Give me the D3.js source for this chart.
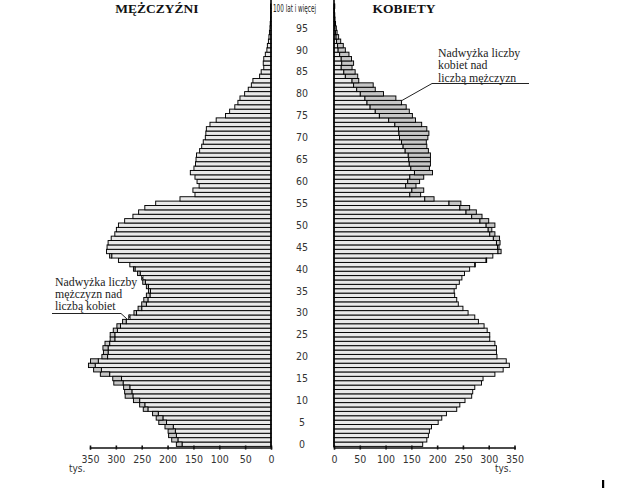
<!DOCTYPE html>
<html>
<head>
<meta charset="utf-8">
<script src="https://cdn.jsdelivr.net/npm/d3@7"></script>
<style>
  body { margin: 0; background: #fff; }
  svg { display: block; }
</style>
</head>
<body>
<div id="pyramid"></div>
<script>
// --------------- Data ---------------
// population by single year of age, thousands (index = age, last = 100+)
const males = [
  183, 192, 198, 199, 205, 217, 222, 229, 247, 254,
  266, 282, 283, 285, 304, 306, 330, 343, 353, 349,
  327, 324, 325, 321, 311, 311, 305, 298, 287, 275,
  265, 257, 250, 246, 241, 237, 241, 248, 250, 258,
  266, 273, 295, 312, 318, 317, 315, 309, 302, 299,
  295, 283, 267, 256, 244, 223, 176, 147, 151, 139,
  143, 147, 156, 149, 146, 145, 144, 138, 134, 131,
  127, 126, 125, 118, 106, 88, 80, 70, 64, 60,
  51, 44, 38, 35, 22, 19, 14, 15, 14, 11,
  8, 7, 5, 4, 3, 2, 1.5, 1, 0.7, 0.5, 0.8
];
const females = [
  172, 180, 183, 185, 189, 202, 209, 218, 238, 244,
  254, 267, 269, 273, 286, 289, 312, 328, 340, 334,
  316, 315, 315, 312, 302, 302, 297, 291, 280, 273,
  260, 250, 241, 238, 234, 233, 237, 243, 248, 253,
  263, 274, 296, 308, 324, 320, 322, 321, 312, 306,
  312, 300, 287, 276, 263, 246, 194, 168, 174, 159,
  166, 174, 191, 185, 187, 187, 187, 183, 180, 179,
  182, 184, 180, 170, 158, 152, 146, 140, 131, 120,
  96, 80, 76, 48, 46, 41, 35, 38, 34, 29,
  22, 18, 13, 9, 6, 4.5, 3, 2, 1.5, 1, 1.5
];
const ageLabels = d3.range(0, 100, 5);
const xTicks = [0, 50, 100, 150, 200, 250, 300, 350];
const topLabel = "100 lat i więcej";
const noteWomen = ["Nadwyżka liczby", "kobiet nad", "liczbą mężczyzn"];
const noteMen = ["Nadwyżka liczby", "mężczyzn nad", "liczbą kobiet"];

// --------------- Constants ---------------
const WIDTH = 618;
const HEIGHT = 488;
const LEFT_ZERO = 271;
const RIGHT_ZERO = 334;
const AXIS_Y = 447.5;
const BAR_FILL = "#e9e9e9";
const EXCESS_FILL = "#c6c6c6";
const SANS = "'Liberation Sans Narrow', 'DejaVu Sans Condensed', 'Liberation Sans', Arial, sans-serif";
const SERIF = "'Liberation Serif', 'Times New Roman', serif";

const ages = d3.range(males.length);
const rows = ages.map((a) => ({ age: a, m: males[a], f: females[a] }));

const svg = d3
  .select("#pyramid")
  .append("svg")
  .attr("width", WIDTH)
  .attr("height", HEIGHT);

const y = d3.scaleBand().domain(ages).range([446.4, 4.0]);
const xm = d3.scaleLinear().domain([0, 350]).range([LEFT_ZERO, 90]);
const xf = d3.scaleLinear().domain([0, 350]).range([RIGHT_ZERO, 514.5]);

function drawBars(side) {
  const x = side === "m" ? xm : xf;
  const other = side === "m" ? "f" : "m";
  const g = svg.append("g").attr("stroke", "#000").attr("stroke-width", 0.95);

  // common part (up to the smaller of the two sexes)
  g.selectAll("rect.base")
    .data(rows)
    .enter()
    .append("rect")
    .attr("class", "base")
    .attr("x", (d) => Math.min(x(0), x(Math.min(d.m, d.f))))
    .attr("width", (d) => Math.abs(x(Math.min(d.m, d.f)) - x(0)))
    .attr("y", (d) => y(d.age))
    .attr("height", y.bandwidth())
    .attr("fill", BAR_FILL);

  // surplus of this sex over the other
  g.selectAll("rect.excess")
    .data(rows.filter((d) => d[side] > d[other]))
    .enter()
    .append("rect")
    .attr("class", "excess")
    .attr("x", (d) => Math.min(x(d[other]), x(d[side])))
    .attr("width", (d) => Math.abs(x(d[side]) - x(d[other])))
    .attr("y", (d) => y(d.age))
    .attr("height", y.bandwidth())
    .attr("fill", EXCESS_FILL);
}

function drawAxes() {
  [xm, xf].forEach((x) => {
    const ax = svg
      .append("g")
      .attr("transform", `translate(0,${AXIS_Y})`)
      .call(d3.axisBottom(x).tickValues(xTicks).tickSizeOuter(0).tickSize(2).tickPadding(6));
    ax.select(".domain").attr("stroke", "#111").attr("stroke-width", 1.3);
    ax.selectAll(".tick line").attr("y1", -2).attr("y2", 2).attr("stroke", "#111").attr("stroke-width", 1.6);
    ax.selectAll(".tick text")
      .attr("font-family", SANS)
      .attr("font-size", 10.5)
      .attr("fill", "#333");
  });

  // vertical age axes
  [LEFT_ZERO, RIGHT_ZERO].forEach((x) => {
    svg.append("line")
      .attr("x1", x).attr("x2", x)
      .attr("y1", 0).attr("y2", AXIS_Y)
      .attr("stroke", "#000")
      .attr("stroke-width", 1.6);
  });

  svg.append("g")
    .selectAll("text")
    .data(ageLabels)
    .enter()
    .append("text")
    .attr("x", 302)
    .attr("y", (d) => y(d) + y.bandwidth() / 2 + 3.6)
    .attr("text-anchor", "middle")
    .attr("font-family", SANS)
    .attr("font-size", 10.5)
    .attr("fill", "#333")
    .text((d) => d);

  svg.append("text")
    .attr("x", 273)
    .attr("y", 11.5)
    .attr("font-family", SANS)
    .attr("font-size", 10)
    .attr("fill", "#222")
    .attr("textLength", 43)
    .attr("lengthAdjust", "spacingAndGlyphs")
    .text(topLabel);

  svg.append("text").attr("x", 69).attr("y", 471.5)
    .attr("font-family", SANS).attr("font-size", 10).attr("fill", "#333").text("tys.");
  svg.append("text").attr("x", 495).attr("y", 472)
    .attr("font-family", SANS).attr("font-size", 10).attr("fill", "#333").text("tys.");
}

function drawTitles() {
  svg.append("text").attr("x", 157).attr("y", 12.5)
    .attr("text-anchor", "middle")
    .attr("font-family", SERIF).attr("font-weight", "bold").attr("font-size", 13.5)
    .attr("fill", "#111").text("MĘŻCZYŹNI");
  svg.append("text").attr("x", 404).attr("y", 12.5)
    .attr("text-anchor", "middle")
    .attr("font-family", SERIF).attr("font-weight", "bold").attr("font-size", 13.5)
    .attr("fill", "#111").text("KOBIETY");
}

function drawNote(lines, x0, y0, leader) {
  svg.append("g")
    .selectAll("text")
    .data(lines)
    .enter()
    .append("text")
    .attr("x", x0)
    .attr("y", (_d, i) => y0 + i * 12.4)
    .attr("font-family", SERIF)
    .attr("font-size", 11.8)
    .attr("fill", "#222")
    .text((d) => d);
  svg.append("path")
    .attr("d", d3.line()(leader))
    .attr("fill", "none")
    .attr("stroke", "#222")
    .attr("stroke-width", 1);
}

drawBars("m");
drawBars("f");
drawAxes();
drawTitles();
drawNote(noteWomen, 438, 57, [[529, 83.5], [432, 83.5], [401, 101]]);
drawNote(noteMen, 55, 285.5, [[52, 313.5], [121, 313.5], [127, 319]]);

// stray mark in the bottom right corner of the scan
svg.append("rect").attr("x", 602).attr("y", 480).attr("width", 2.2).attr("height", 8).attr("fill", "#000");
</script>
</body>
</html>
